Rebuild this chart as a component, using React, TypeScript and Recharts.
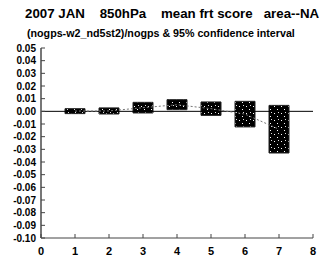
import { ComposedChart, Bar, Line, XAxis, YAxis, ReferenceLine } from 'recharts'

const categories = [1, 2, 3, 4, 5, 6, 7]
const lows = [-0.0018, -0.0021, -0.0013, 0.0013, -0.0032, -0.0123, -0.0329]
const highs = [0.0021, 0.0027, 0.0071, 0.0092, 0.0074, 0.0079, 0.0047]
const means = [0.0002, 0.0003, 0.0029, 0.0052, 0.0021, -0.0022, -0.0141]
const xTicks = [0, 1, 2, 3, 4, 5, 6, 7, 8]
const yTicks = [0.05, 0.04, 0.03, 0.02, 0.01, 0, -0.01, -0.02, -0.03, -0.04, -0.05, -0.06, -0.07, -0.08, -0.09, -0.1]

const data = categories.map((c, i) => ({
  x: c,
  range: [lows[i], highs[i]],
  mean: means[i]
}))

const FONT = '"Liberation Sans", Arial, sans-serif'
const AXIS = '#444'

const BottomTick = ({ x, y, payload }: any) => (
  <g>
    <line x1={x} x2={x} y1={y - 10} y2={y - 14} stroke={AXIS} />
    <text x={x} y={y + 7} textAnchor="middle" fontSize={11} fontWeight="bold" fontFamily={FONT} fill="#000">
      {payload.value}
    </text>
  </g>
)

const TopTick = ({ x, y }: any) => (
  <line x1={x} x2={x} y1={y} y2={y + 4} stroke={AXIS} />
)

const LeftTick = ({ x, y, payload }: any) => (
  <g>
    <line x1={x + 5} x2={x + 9} y1={y} y2={y} stroke={AXIS} />
    <text x={x} y={y + 3.5} textAnchor="end" fontSize={10} fontWeight="bold" fontFamily={FONT} fill="#000">
      {Number(payload.value).toFixed(2)}
    </text>
  </g>
)

const RightTick = ({ x, y }: any) => (
  <line x1={x} x2={x - 4} y1={y} y2={y} stroke={AXIS} />
)

export default function App() {
  return (
    <div style={{ position: 'absolute', left: 0, top: 0, width: 329, height: 259, background: '#fff' }}>
      <div
        style={{
          position: 'absolute', left: 25, top: 6, fontFamily: FONT, fontWeight: 'bold',
          fontSize: 13.3, whiteSpace: 'pre', color: '#000'
        }}
      >
        {'2007 JAN    850hPa    mean frt score   area--NA'}
      </div>
      <div
        style={{
          position: 'absolute', left: 27, top: 27, fontFamily: FONT, fontWeight: 'bold',
          fontSize: 10.7, whiteSpace: 'pre', color: '#000'
        }}
      >
        {'(nogps-w2_nd5st2)/nogps & 95% confidence interval'}
      </div>
      <ComposedChart
        width={329}
        height={259}
        data={data}
        margin={{ top: 48, right: 16, bottom: 0, left: 0 }}
        style={{ position: 'absolute', left: 0, top: 0 }}
      >
        <defs>
          <pattern id="stip" width="7" height="7" patternUnits="userSpaceOnUse">
            <rect width="7" height="7" fill="#000" />
            <rect x="1" y="1" width="1" height="1" fill="#fff" />
            <rect x="4" y="4" width="1" height="1" fill="#fff" />
            <rect x="5" y="0" width="1" height="1" fill="#ddd" />
          </pattern>
        </defs>
        <XAxis
          dataKey="x"
          type="number"
          domain={[0, 8]}
          ticks={xTicks}
          interval={0}
          height={21}
          tickSize={0}
          tickMargin={10}
          tickLine={false}
          axisLine={{ stroke: AXIS }}
          tick={<BottomTick />}
        />
        <XAxis
          xAxisId="top"
          dataKey="x"
          type="number"
          orientation="top"
          domain={[0, 8]}
          ticks={xTicks}
          interval={0}
          height={0}
          tickSize={0}
          tickLine={false}
          axisLine={{ stroke: AXIS }}
          tick={<TopTick />}
        />
        <YAxis
          type="number"
          domain={[-0.1, 0.05]}
          ticks={yTicks}
          interval={0}
          width={41}
          tickSize={0}
          tickMargin={5}
          tickLine={false}
          axisLine={{ stroke: '#777', strokeWidth: 2 }}
          tick={<LeftTick />}
        />
        <YAxis
          yAxisId="right"
          orientation="right"
          type="number"
          domain={[-0.1, 0.05]}
          ticks={yTicks}
          interval={0}
          width={0}
          tickSize={0}
          tickLine={false}
          axisLine={{ stroke: AXIS }}
          tick={<RightTick />}
        />
        <ReferenceLine y={0} stroke="#000" strokeWidth={1} />
        <Line
          dataKey="mean"
          stroke="#777"
          strokeWidth={1}
          strokeDasharray="2 2"
          dot={false}
          isAnimationActive={false}
        />
        <Bar dataKey="range" barSize={20} fill="url(#stip)" stroke="#222" isAnimationActive={false} />
      </ComposedChart>
    </div>
  )
}
